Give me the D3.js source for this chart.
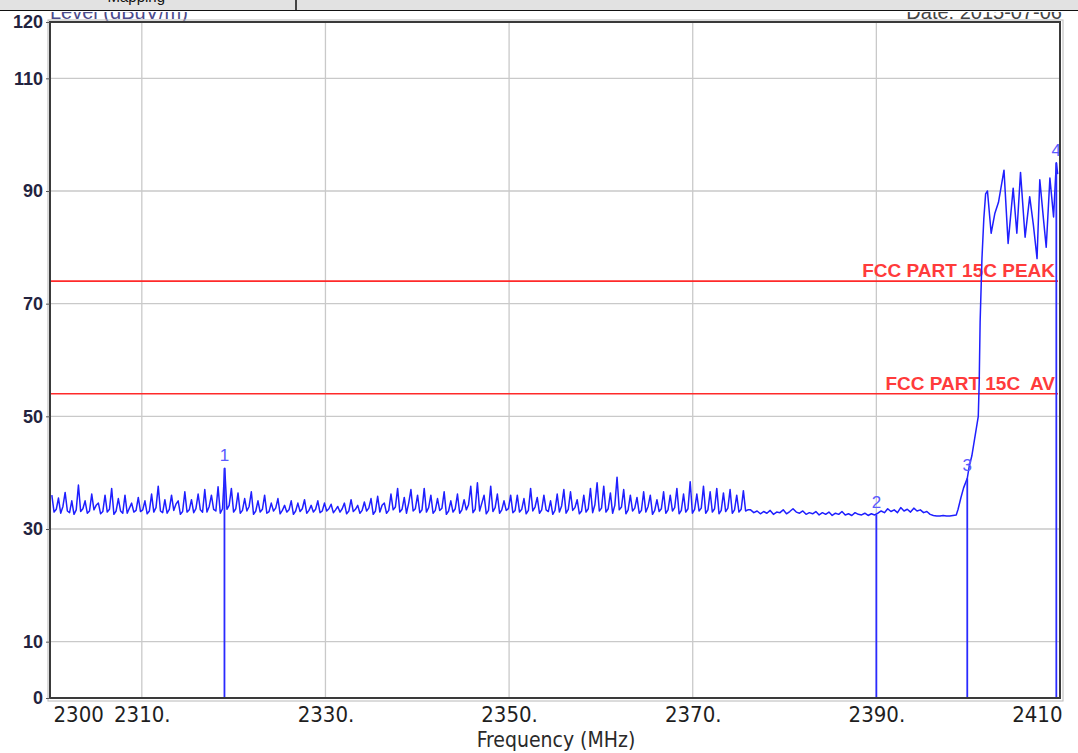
<!DOCTYPE html>
<html><head><meta charset="utf-8">
<script src="https://cdn.jsdelivr.net/npm/d3@7/dist/d3.min.js"></script>
<style>
html,body{margin:0;padding:0;background:#fff;}
svg{display:block;}
</style></head>
<body>
<svg id="c" width="1078" height="753"></svg>
<script>
// ---------- data ----------
const xTickValues = [2300, 2310, 2330, 2350, 2370, 2390, 2410];
const xTickLabels = ["2300", "2310.", "2330.", "2350.", "2370.", "2390.", "2410"];
const yTickValues = [0, 10, 30, 50, 70, 90, 110, 120];
const yTickLabels = ["0", "10", "30", "50", "70", "90", "110", "120"];
const yGridValues = [10, 30, 50, 70, 90, 110];
const xGridValues = [2310, 2330, 2350, 2370, 2390];

// noisy part of the trace, evenly spaced from noiseStart to noiseEnd (MHz)
const noiseStart = 2300.2, noiseEnd = 2376.0;
const noiseLevels = [
 36,33,33.5, 35.5,32.8,34, 36.5,33.2,32.9, 35,32.6,33.4, 37.8,33.1,33.6, 35,32.8,33.2, 36.2,33.4,34.2, 34.6,32.7,33.1, 36,33,33.5, 37.2,32.6,33.2, 35.4,33.2,32.8, 36,32.8,33.7, 34.6,33,33.3, 35.6,33.1,33.4,
 35,32.7,33.2, 36.2,33,33.8, 37.6,33.2,32.9, 35.2,32.8,33.5, 36,33.3,34.4, 35,32.6,33.1, 36.6,33,33.4, 35.2,32.9,33.6, 36.2,33.4,33, 37,33,34, 36,33.5,33.2, 37.5,32.8,33.6, 40.8,33.5,34.2,
 37.2,33,33.6, 36.4,32.8,33.3, 35.4,33.2,34, 36.6,32.6,33.2, 35,33,33.5, 36,32.8,33.1, 34.6,33.2,33.7, 35.4,32.7,33.3, 34.2,33,33.4, 35,32.6,33.2, 34.6,33.1,33.6, 35.2,32.8,33.3, 34.2,33,33.5, 35,32.9,33.2, 34.6,33.2,33.6,
 34.4,32.9,33.4, 34,33,33.6, 34.6,32.7,33.2, 35.2,33.1,33.5, 34.2,32.8,33.3, 34.8,33.2,33.7, 35.4,32.6,33.2, 35.8,33,34.2, 34.6,32.8,33.3, 36.2,33.4,33.9, 37.2,33,33.5, 35.6,32.8,34.6, 37,33.2,33.6, 36,32.9,33.4,
 37.2,33,33.8, 36,32.8,33.3, 35.4,33.3,33.7, 36.6,32.6,33.2, 35,33,33.6, 36.2,32.8,33.4, 35.2,33.4,34.3, 37.6,32.9,33.5, 38.2,33.2,34.6, 36,32.7,33.3, 37.6,33.1,33.8, 36.2,32.8,33.4, 35,33.3,33.6, 36,32.9,33.3,
 36,33,33.5, 35.4,32.7,33.3, 37.2,33.2,33.9, 35.6,32.8,33.4, 36,33.4,33.1, 35,32.6,33.3, 36.2,33,34.1, 37,32.8,33.5, 36.6,33.3,33.8, 35.2,32.7,33.2, 36,33,33.6, 37.2,32.9,34.3, 38.2,33.2,33.7,
 37.6,33,33.6, 36.4,32.8,34.2, 39.2,33.4,33.9, 37,32.7,33.4, 36,33.2,33.7, 35.6,32.8,33.3, 36.6,33,34, 36,32.6,33.3, 35.2,33.1,33.6, 36.6,32.8,33.4, 36,33.2,33.8, 37.2,32.7,33.3, 36.2,33,33.6, 38.4,32.8,33.5,
 36.2,33.2,33.7, 37.6,32.8,33.4, 36.6,33,33.6, 37.2,32.7,33.3, 36.4,33.1,33.7, 37,32.8,33.4, 36,33,33.5, 36.8,33.2,33.4
];

// quiet part, evenly spaced from quietStart to quietEnd (MHz)
const quietStart = 2376.3, quietEnd = 2398.7;
const quietLevels = [
 33.4,32.9,33.2,32.7,33.1,32.8,33.3,32.6,33.0,32.9,
 33.4,32.7,33.1,33.6,33.0,32.8,33.2,32.6,32.9,32.7,
 33.1,32.5,32.9,32.6,33.0,32.4,32.8,32.6,33.1,32.5,
 32.7,32.4,32.9,32.6,32.5,32.8,32.4,32.7,32.5,32.8,
 33.2,32.9,33.6,33.1,33.4,32.9,33.8,33.2,33.5,33.0,
 33.7,33.2,33.4,32.9,33.1,32.6,32.4,32.3,32.3,32.4,
 32.3,32.3,32.4,32.5
];

// band edge
const edgeFreqs = [2398.9, 2399.2, 2399.5, 2399.9, 2400.1, 2400.4, 2400.7, 2401.1, 2401.2, 2401.3, 2401.5, 2401.7, 2401.9, 2402.1, 2402.5, 2402.9, 2403.3, 2403.9, 2404.35, 2404.9, 2405.3, 2405.7, 2406.2, 2406.7, 2407.1, 2407.5, 2407.8, 2408.2, 2408.5, 2408.9, 2409.3, 2409.6, 2409.75];
const edgeLevels = [33.5, 35.5, 37.3, 39.0, 41.0, 43.0, 46.0, 50.0, 56.0, 66.7, 78.0, 85.0, 89.5, 90.0, 82.5, 86.0, 88.0, 93.7, 80.7, 90.5, 82.5, 93.3, 81.8, 89.0, 84.0, 78.0, 92.0, 85.0, 80.0, 92.3, 85.4, 95.0, 93.0];

const limitValues = [74, 54];
const limitLabels = ["FCC PART 15C PEAK", "FCC PART 15C  AV"];

const markerIds = ["1", "2", "3", "4"];
const markerFreqs = [2319.0, 2390.0, 2399.9, 2409.6];
const markerLevels = [40.8, 32.5, 39.0, 95.0];

// ---------- layout ----------
const W = 1078, H = 753;
const L = 50, R = 1060, T = 22, B = 698;
const svg = d3.select("#c");
const x = d3.scaleLinear().domain([2300, 2410]).range([L, R]);
const y = d3.scaleLinear().domain([0, 120]).range([B, T]);

const nStep = (noiseEnd - noiseStart) / (noiseLevels.length - 1);
const qStep = (quietEnd - quietStart) / (quietLevels.length - 1);
const trace = noiseLevels.map((v, i) => [noiseStart + i * nStep, v])
  .concat(quietLevels.map((v, i) => [quietStart + i * qStep, v]))
  .concat(edgeFreqs.map((f, i) => [f, edgeLevels[i]]));

// header texts (partly hidden under strip)
svg.append("text").attr("x", L).attr("y", 19)
  .attr("font-family", "Liberation Sans, Arial, sans-serif").attr("font-size", 20)
  .attr("fill", "#4b4b8c").text("Level (dBuV/m)");
svg.append("text").attr("x", R + 2).attr("y", 19).attr("text-anchor", "end")
  .attr("font-family", "Liberation Sans, Arial, sans-serif").attr("font-size", 20)
  .attr("fill", "#444").text("Date: 2015-07-06");

// grid
svg.append("g").selectAll("line").data(yGridValues).join("line")
  .attr("x1", L).attr("x2", R).attr("y1", d => y(d)).attr("y2", d => y(d))
  .attr("stroke", "#c9c9c9").attr("stroke-width", 1.3);
svg.append("g").selectAll("line").data(xGridValues).join("line")
  .attr("y1", T).attr("y2", B).attr("x1", d => x(d)).attr("x2", d => x(d))
  .attr("stroke", "#c9c9c9").attr("stroke-width", 1.3);

// limit lines
const lg = svg.append("g");
lg.selectAll("line").data(limitValues).join("line")
  .attr("x1", L).attr("x2", R - 2).attr("y1", d => y(d)).attr("y2", d => y(d))
  .attr("stroke", "#ff2a2a").attr("stroke-width", 1.6);
lg.selectAll("text").data(limitValues).join("text")
  .attr("x", R - 5).attr("y", d => y(d) - 4).attr("text-anchor", "end")
  .attr("font-family", "Liberation Sans, Arial, sans-serif").attr("font-size", 19)
  .attr("font-weight", "bold").attr("fill", "#ff3b3b")
  .style("white-space", "pre")
  .text((d, i) => limitLabels[i]);

// trace
svg.append("path").datum(trace)
  .attr("d", d3.line().x(d => x(d[0])).y(d => y(d[1])))
  .attr("fill", "none").attr("stroke", "#1f1fff").attr("stroke-width", 1.5)
  .attr("stroke-linejoin", "round");

// markers
const mg = svg.append("g");
mg.selectAll("line").data(markerFreqs).join("line")
  .attr("x1", d => x(d)).attr("x2", d => x(d))
  .attr("y1", (d, i) => y(markerLevels[i])).attr("y2", B)
  .attr("stroke", "#2a2aff").attr("stroke-width", 1.8);
mg.selectAll("text").data(markerFreqs).join("text")
  .attr("x", d => x(d)).attr("y", (d, i) => y(markerLevels[i]) - 7)
  .attr("text-anchor", "middle")
  .attr("font-family", "Liberation Sans, Arial, sans-serif").attr("font-size", 17)
  .attr("fill", "#5a5aff").text((d, i) => markerIds[i]);

// frame
svg.append("rect").attr("x", L).attr("y", T).attr("width", R - L).attr("height", B - T)
  .attr("fill", "none").attr("stroke", "#3a3a3a").attr("stroke-width", 2);
svg.append("rect").attr("x", L - 2).attr("y", T - 2).attr("width", R - L + 5).attr("height", B - T + 5)
  .attr("fill", "none").attr("stroke", "#b8b8b8").attr("stroke-width", 1);

// y axis
const ya = svg.append("g").attr("transform", `translate(${L},0)`)
  .call(d3.axisLeft(y).tickValues(yTickValues).tickSize(4).tickPadding(3)
    .tickFormat((d, i) => yTickLabels[i]));
ya.select(".domain").remove();
ya.selectAll(".tick line").attr("stroke", "#555");
ya.selectAll(".tick text").attr("font-family", "Liberation Sans, Arial, sans-serif")
  .attr("font-size", 18).attr("font-weight", "bold").attr("fill", "#23233f");

// x axis
const xa = svg.append("g").attr("transform", `translate(0,${B})`)
  .call(d3.axisBottom(x).tickValues(xTickValues).tickSize(0).tickPadding(8)
    .tickFormat((d, i) => xTickLabels[i]));
xa.select(".domain").remove();
xa.selectAll(".tick text").attr("font-family", "Liberation Sans Narrow, DejaVu Sans Condensed, Arial Narrow, sans-serif")
  .attr("font-size", 22).attr("fill", "#1e1e1e")
  .attr("text-anchor", (d, i) => i === 0 ? "start" : (i === xTickValues.length - 1 ? "end" : "middle"))
  .attr("dx", (d, i) => i === 0 ? 3 : (i === xTickValues.length - 1 ? 2 : 0));

svg.append("text").attr("x", 556).attr("y", 747).attr("text-anchor", "middle")
  .attr("font-family", "Liberation Sans Narrow, DejaVu Sans Condensed, Arial Narrow, sans-serif")
  .attr("font-size", 21).attr("fill", "#2a2a2a").text("Frequency (MHz)");

// header strip
const hg = svg.append("g");
hg.append("rect").attr("x", 0).attr("y", 0).attr("width", W).attr("height", 10).attr("fill", "#e2e2e2");
hg.append("text").attr("x", 165).attr("y", 2).attr("text-anchor", "end")
  .attr("font-family", "Liberation Sans, Arial, sans-serif").attr("font-size", 15)
  .attr("fill", "#111").text("Mapping");
hg.append("rect").attr("x", 0).attr("y", 10).attr("width", W).attr("height", 2).attr("fill", "#fff");
hg.append("line").attr("x1", 0).attr("x2", W).attr("y1", 10.5).attr("y2", 10.5).attr("stroke", "#111").attr("stroke-width", 1.2);
hg.append("line").attr("x1", 296).attr("x2", 296).attr("y1", 0).attr("y2", 10).attr("stroke", "#111").attr("stroke-width", 1.5);
</script>
</body></html>
